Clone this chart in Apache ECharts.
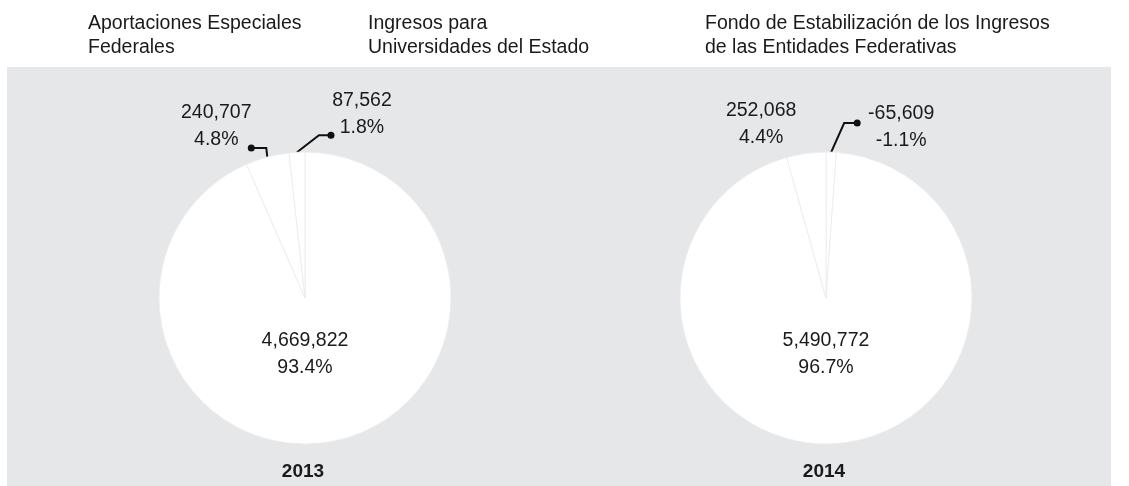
<!DOCTYPE html>
<html>
<head>
<meta charset="utf-8">
<script src="https://cdn.jsdelivr.net/npm/echarts@6/dist/echarts.min.js"></script>
<style>
html, body { margin: 0; padding: 0; background: #ffffff; }
#Charts { width: 1129px; height: 486px; }
</style>
</head>
<body>
<div id="Charts"></div>
<script>
// categories
var names = [
	'Aportaciones Especiales Federales',
	'Ingresos para Universidades del Estado',
	'Fondo de Estabilización de los Ingresos de las Entidades Federativas'
];
var legendText = [
	'Aportaciones Especiales\nFederales',
	'Ingresos para\nUniversidades del Estado',
	'Fondo de Estabilización de los Ingresos\nde las Entidades Federativas'
];

// slices in drawing order, clockwise from 12 o'clock
var names2013 = [names[0], names[1], names[2]];
var values2013 = [4669822, 240707, 87562];
var pct2013 = [93.4, 4.8, 1.8];

var names2014 = [names[2], names[0], names[1]];
var values2014 = [-65609, 5490772, 252068];
var pct2014 = [-1.1, 96.7, 4.4];

var FONT = '"Liberation Sans", Arial, sans-serif';
var TXT = '#1a1a1a';

// where each label goes (offsets from the point the library puts on the rim)
var place2013 = [
	{ center: true, dy: 56 },
	{ elbow: [-1, -9], run: -15, text: [-35, -22], dot: true },
	{ elbow: [22, -17], run: 12, text: [31, -21], dot: true }
];
var place2014 = [
	{ elbow: [13, -29], run: 13, text: [44, 4], dot: true },
	{ center: true, dy: 56 },
	{ elbow: [0, 0], run: 0, text: [-45, -29], dot: false }
];

function fmt(v) {
	return v.toLocaleString('en-US');
}

function linePts(p, c) {
	var p0 = p.labelLinePoints[0];
	var p1 = [p0[0] + c.elbow[0], p0[1] + c.elbow[1]];
	var p2 = [p1[0] + c.run, p1[1]];
	return [p0, p1, p2];
}

function layoutText(place) {
	return function (p) {
		var c = place[p.dataIndex];
		if (c.center) return { dy: c.dy };
		if (!p.labelLinePoints) return {};
		var pts = linePts(p, c);
		return {
			x: pts[2][0] + c.text[0],
			y: pts[2][1] + c.text[1],
			align: 'center',
			verticalAlign: 'middle',
			labelLinePoints: pts
		};
	};
}

function layoutDot(place) {
	return function (p) {
		var c = place[p.dataIndex];
		if (c.center || !c.dot || !p.labelLinePoints) return {};
		var pts = linePts(p, c);
		return {
			x: pts[2][0],
			y: pts[2][1],
			align: 'center',
			verticalAlign: 'middle'
		};
	};
}

function pieSeries(year, cx, ns, vals, pcts, place) {
	return {
		name: year,
		type: 'pie',
		center: [cx, 298],
		radius: 146,
		startAngle: 90,
		clockwise: true,
		avoidLabelOverlap: false,
		silent: true,
		z: 2,
		itemStyle: { color: '#ffffff', borderColor: '#ebebeb', borderWidth: 0.8 },
		label: {
			show: true,
			color: TXT,
			fontFamily: FONT,
			fontSize: 19.5,
			lineHeight: 27,
			formatter: function (p) {
				return fmt(vals[p.dataIndex]) + '\n' + pcts[p.dataIndex].toFixed(1) + '%';
			}
		},
		labelLine: { show: true, lineStyle: { color: '#111111', width: 2 } },
		labelLayout: layoutText(place),
		data: ns.map(function (n, i) {
			var c = place[i];
			return {
				name: n,
				value: Math.abs(vals[i]),
				label: { position: c.center ? 'center' : 'outside' },
				labelLine: { show: !c.center }
			};
		})
	};
}

// same slices again, invisible, only to put the round end on each leader line
function dotSeries(year, cx, ns, vals, place) {
	return {
		name: year + ' dots',
		type: 'pie',
		center: [cx, 298],
		radius: 146,
		startAngle: 90,
		clockwise: true,
		avoidLabelOverlap: false,
		silent: true,
		z: 3,
		itemStyle: { color: 'rgba(0,0,0,0)', borderWidth: 0 },
		label: {
			show: true,
			position: 'outside',
			formatter: '{d|}',
			rich: { d: { width: 7, height: 7, borderRadius: 3.5, backgroundColor: '#111111' } }
		},
		labelLine: { show: true, lineStyle: { opacity: 0 } },
		labelLayout: layoutDot(place),
		data: ns.map(function (n, i) {
			var c = place[i];
			return {
				name: n,
				value: Math.abs(vals[i]),
				label: { show: !c.center && c.dot }
			};
		})
	};
}

var legendLeft = [58, 338, 675];

var chart = echarts.init(document.getElementById('Charts'));

var option = {
	backgroundColor: '#ffffff',
	animation: false,
	graphic: [{
		type: 'rect',
		left: 7,
		top: 67,
		silent: true,
		z: 0,
		shape: { width: 1104, height: 419 },
		style: { fill: '#e6e7e9' }
	}],
	title: [
		{ text: '2013', left: 303, top: 462, padding: 0, textAlign: 'center',
			textStyle: { fontFamily: FONT, fontSize: 19, fontWeight: 'bold', color: TXT } },
		{ text: '2014', left: 824, top: 462, padding: 0, textAlign: 'center',
			textStyle: { fontFamily: FONT, fontSize: 19, fontWeight: 'bold', color: TXT } }
	],
	legend: names.map(function (n, i) {
		return {
			data: [n],
			left: legendLeft[i],
			top: 12,
			padding: 0,
			icon: 'rect',
			itemWidth: 25,
			itemHeight: 14,
			selectedMode: false,
			itemStyle: { color: '#ffffff', borderWidth: 0 },
			formatter: function () { return legendText[i]; },
			textStyle: { fontFamily: FONT, fontSize: 19.5, lineHeight: 24, color: TXT }
		};
	}),
	series: [
		pieSeries('2013', 305, names2013, values2013, pct2013, place2013),
		pieSeries('2014', 826, names2014, values2014, pct2014, place2014),
		dotSeries('2013', 305, names2013, values2013, place2013),
		dotSeries('2014', 826, names2014, values2014, place2014)
	]
};

chart.setOption(option);
</script>
</body>
</html>
